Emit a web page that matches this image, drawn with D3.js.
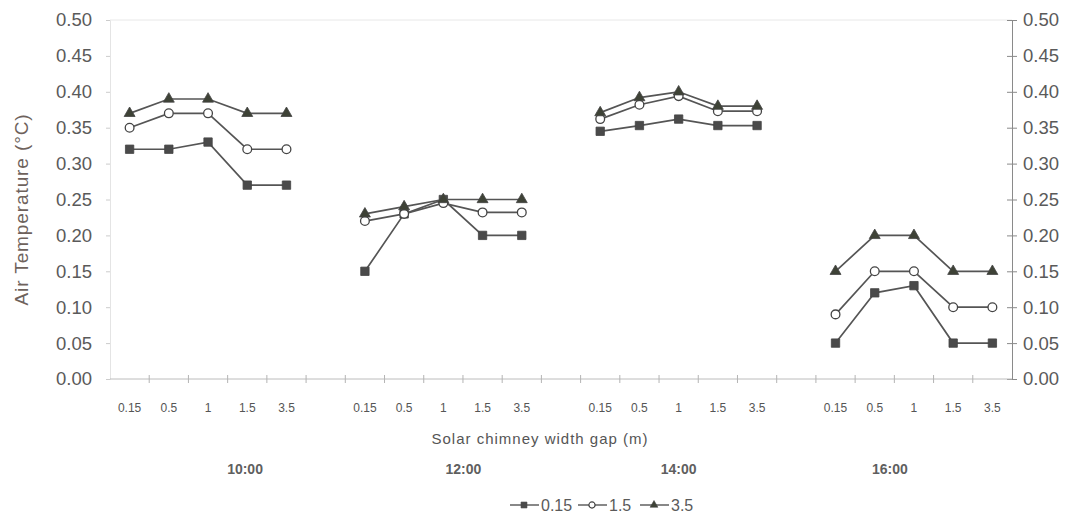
<!DOCTYPE html>
<html>
<head>
<meta charset="utf-8">
<script src="https://cdn.jsdelivr.net/npm/d3@7"></script>
<style>
  body { margin: 0; background: #fff; }
  text { font-family: Arial, "Liberation Sans", sans-serif; }
</style>
</head>
<body>
<div class="chart"></div>
<script>
// chart data
var times = ["10:00", "12:00", "14:00", "16:00"];
var gaps = ["0.15", "0.5", "1", "1.5", "3.5"];
var seriesNames = ["0.15", "1.5", "3.5"];

// one array per series, 5 values per time block
var temp015 = [0.32, 0.32, 0.33, 0.27, 0.27,
               0.15, 0.23, 0.25, 0.20, 0.20,
               0.345, 0.353, 0.362, 0.353, 0.353,
               0.05, 0.12, 0.13, 0.05, 0.05];
var temp15 = [0.35, 0.37, 0.37, 0.32, 0.32,
              0.22, 0.23, 0.245, 0.232, 0.232,
              0.362, 0.382, 0.394, 0.373, 0.373,
              0.09, 0.15, 0.15, 0.10, 0.10];
var temp35 = [0.37, 0.39, 0.39, 0.37, 0.37,
              0.23, 0.24, 0.25, 0.25, 0.25,
              0.371, 0.392, 0.40, 0.38, 0.38,
              0.15, 0.20, 0.20, 0.15, 0.15];
var yTicks = [0, 0.05, 0.10, 0.15, 0.20, 0.25, 0.30, 0.35, 0.40, 0.45, 0.50];

var svgWidth = 1076;
var svgHeight = 517;

var margin = { top: 20, right: 64, bottom: 138, left: 110 };
var width = svgWidth - margin.left - margin.right;
var height = svgHeight - margin.top - margin.bottom;

var svg = d3.select(".chart")
  .append("svg")
  .attr("width", svgWidth)
  .attr("height", svgHeight);

var chartGroup = svg.append("g")
  .attr("transform", `translate(${margin.left}, ${margin.top})`);

// categories: 4 blocks of 5 gaps, with an empty slot between blocks
var cats = [];
times.forEach(function(t, i) {
  if (i > 0) cats.push("blank" + i);
  gaps.forEach(function(g) { cats.push(t + "|" + g); });
});

var xBand = d3.scaleBand().domain(cats).range([0, width]);
var yScale = d3.scaleLinear().domain([0, 0.5]).range([height, 0]);

function xc(key) { return xBand(key) + xBand.bandwidth() / 2; }

// faint top border
chartGroup.append("line")
  .attr("x1", 0).attr("x2", width)
  .attr("y1", 0).attr("y2", 0)
  .attr("stroke", "#e8e8e8");

// left axis (faint)
var yAxisLeft = d3.axisLeft(yScale).tickValues(yTicks).tickSize(4).tickPadding(14)
  .tickFormat(d3.format(".2f"));
var gl = chartGroup.append("g").call(yAxisLeft);
gl.select(".domain").attr("stroke", "#e4e4e4");
gl.selectAll(".tick line").attr("stroke", "#cccccc");
gl.selectAll("text").attr("font-size", 18.5).attr("fill", "#5a5a5a");

// right axis
var yAxisRight = d3.axisRight(yScale).tickValues(yTicks).tickSize(5).tickPadding(6)
  .tickFormat(d3.format(".2f"));
var gr = chartGroup.append("g")
  .attr("transform", `translate(${width}, 0)`)
  .call(yAxisRight);
gr.select(".domain").attr("stroke", "#8a8a8a");
gr.selectAll(".tick line").attr("stroke", "#8a8a8a").attr("x1", -5);
gr.selectAll("text").attr("font-size", 18.5).attr("fill", "#5a5a5a");

// bottom axis
var gb = chartGroup.append("g")
  .attr("transform", `translate(0, ${height})`);
gb.append("line")
  .attr("x1", 0).attr("x2", width)
  .attr("stroke", "#bcbcbc");
gb.selectAll(".btick")
  .data(cats.slice(1))
  .enter()
  .append("line")
  .attr("class", "btick")
  .attr("x1", d => xBand(d)).attr("x2", d => xBand(d))
  .attr("y1", -4).attr("y2", 4)
  .attr("stroke", "#b4b4b4");
gb.selectAll(".xlab")
  .data(cats.filter(c => c.indexOf("|") > 0))
  .enter()
  .append("text")
  .attr("class", "xlab")
  .attr("x", d => xc(d))
  .attr("y", 33)
  .attr("text-anchor", "middle")
  .attr("font-size", 12)
  .attr("fill", "#555")
  .text(d => d.split("|")[1]);

// axis titles
svg.append("text")
  .attr("transform", `translate(28, ${margin.top + height / 2 + 10}) rotate(-90)`)
  .attr("text-anchor", "middle")
  .attr("font-size", 19)
  .attr("letter-spacing", 0.9)
  .attr("fill", "#6e625c")
  .text("Air Temperature (°C)");

svg.append("text")
  .attr("x", 540)
  .attr("y", 444)
  .attr("text-anchor", "middle")
  .attr("font-size", 15)
  .attr("letter-spacing", 1)
  .attr("fill", "#555")
  .text("Solar chimney width gap (m)");

// time labels under the title
var timeLabelShift = [37, 20, 0, -24];
svg.selectAll(".tlab")
  .data(times)
  .enter()
  .append("text")
  .attr("class", "tlab")
  .attr("x", (d, i) => margin.left + xc(d + "|1") + timeLabelShift[i])
  .attr("y", 474)
  .attr("text-anchor", "middle")
  .attr("font-size", 14)
  .attr("font-weight", "bold")
  .attr("fill", "#5f5f5f")
  .text(d => d);

// series lines and markers
var allSeries = [temp015, temp15, temp35];
var shapes = [d3.symbolSquare, d3.symbolCircle, d3.symbolTriangle];
var symSize = [70, 60, 52];
var fills = ["#4a4a4a", "#fff", "#3e4236"];

var line = d3.line()
  .x(d => xc(d.key))
  .y(d => yScale(d.v));

allSeries.forEach(function(vals, s) {
  times.forEach(function(t, ti) {
    var pts = gaps.map(function(g, gi) {
      return { key: t + "|" + g, v: vals[ti * 5 + gi] };
    });
    chartGroup.append("path")
      .datum(pts)
      .attr("d", line)
      .attr("fill", "none")
      .attr("stroke", "#555")
      .attr("stroke-width", 1.7);
    chartGroup.selectAll(".m" + s + "-" + ti)
      .data(pts)
      .enter()
      .append("path")
      .attr("transform", d => `translate(${xc(d.key)}, ${yScale(d.v)})`)
      .attr("d", d3.symbol().type(shapes[s]).size(symSize[s]))
      .attr("fill", fills[s])
      .attr("stroke", "#444")
      .attr("stroke-width", s === 1 ? 1.3 : 0.8);
  });
});

// legend
var legend = svg.append("g").attr("transform", "translate(510, 505)");
var legX = [0, 68, 130];
seriesNames.forEach(function(name, i) {
  var g = legend.append("g").attr("transform", `translate(${legX[i]}, 0)`);
  g.append("line").attr("x1", 0).attr("x2", 29)
    .attr("stroke", "#555").attr("stroke-width", 1.4);
  g.append("path")
    .attr("transform", "translate(14, 0)")
    .attr("d", d3.symbol().type(shapes[i]).size(symSize[i] * 0.5))
    .attr("fill", fills[i])
    .attr("stroke", "#444")
    .attr("stroke-width", i === 1 ? 1.2 : 0.6);
  g.append("text")
    .attr("x", 31).attr("y", 6)
    .attr("font-size", 16)
    .attr("fill", "#5a5a5a")
    .text(name);
});
</script>
</body>
</html>
